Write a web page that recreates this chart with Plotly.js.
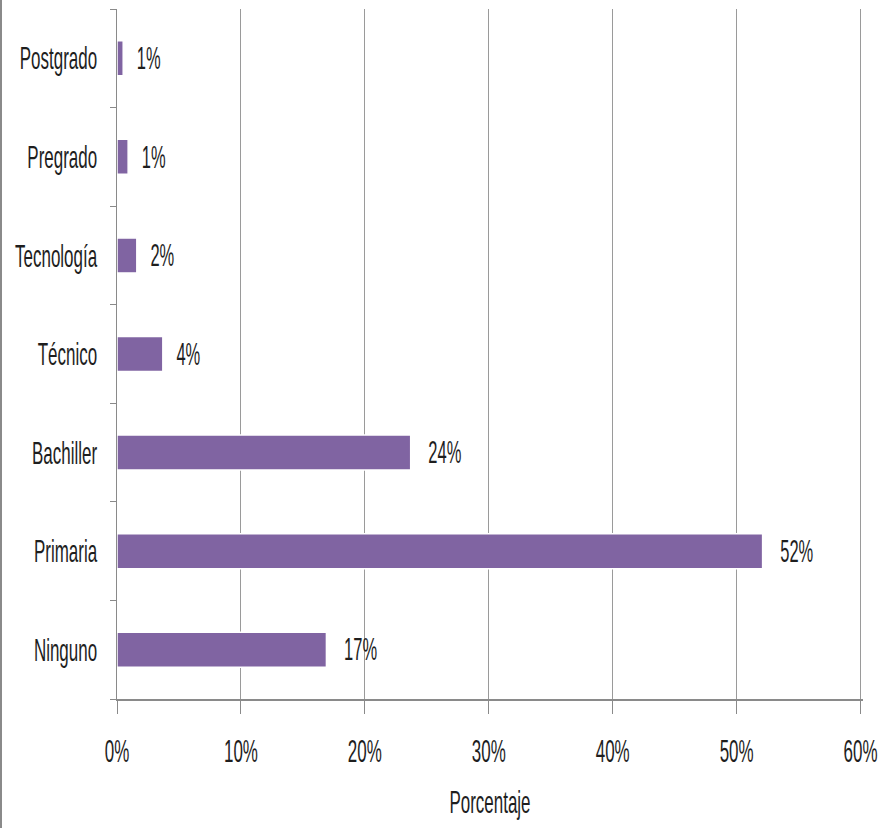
<!DOCTYPE html>
<html>
<head>
<meta charset="utf-8">
<script src="https://cdn.plot.ly/plotly-3.0.1.min.js"></script>
<style>
  html, body { margin: 0; padding: 0; background: #fff; }
  #chart { width: 881px; height: 828px; box-sizing: border-box; border-left: 2px solid #8a8a8a; }
</style>
</head>
<body>
<div id="chart"></div>
<script>
const categories = ["Ninguno", "Primaria", "Bachiller", "Técnico", "Tecnología", "Pregrado", "Postgrado"];
const values = [0.169, 0.521, 0.237, 0.037, 0.016, 0.009, 0.005];
const labels = ["17%", "52%", "24%", "4%", "2%", "1%", "1%"];
const tickVals = [0, 0.1, 0.2, 0.3, 0.4, 0.5, 0.6];
const tickText = ["0%", "10%", "20%", "30%", "40%", "50%", "60%"];

const F = { family: "Liberation Sans, Arial, sans-serif", size: 32, color: "#1e1e1e" };
const SQUEEZE = 0.53;

const trace = {
  type: "bar",
  orientation: "h",
  y: categories,
  x: values,
  text: labels,
  textposition: "outside",
  cliponaxis: false,
  textfont: F,
  marker: { color: "#8064A2", line: { color: "#ffffff", width: 1.5 } },
  hoverinfo: "skip"
};

const layout = {
  width: 879,
  height: 828,
  margin: { l: 115, r: 18, t: 9, b: 129 },
  paper_bgcolor: "#ffffff",
  plot_bgcolor: "#ffffff",
  showlegend: false,
  bargap: 0.645,
  font: F,
  xaxis: {
    range: [0, 0.602],
    tickvals: tickVals,
    ticktext: tickText,
    showgrid: true,
    gridcolor: "#9a9a9a",
    gridwidth: 1,
    zeroline: false,
    showline: true,
    linecolor: "#8a8a8a",
    linewidth: 2,
    ticks: "outside",
    ticklen: 13,
    tickcolor: "#8a8a8a",
    tickfont: F,
    ticklabelstandoff: 10,
    ticklabeloverflow: "allow",
    title: { text: "Porcentaje", font: F, standoff: 22 },
    fixedrange: true
  },
  yaxis: {
    type: "category",
    categoryorder: "array",
    categoryarray: categories,
    showgrid: false,
    zeroline: false,
    showline: true,
    linecolor: "#8a8a8a",
    linewidth: 1.5,
    ticks: "outside",
    tickson: "boundaries",
    ticklen: 6,
    tickcolor: "#8a8a8a",
    ticklabelstandoff: 12,
    tickfont: F,
    fixedrange: true
  }
};

function squeeze(gd) {
  const sel = gd.querySelectorAll(".xtick text, .ytick text, .textpoint text, .bartext, .g-xtitle text");
  sel.forEach(function (t) {
    if (t.getAttribute("data-sq")) return;
    const len = t.getComputedTextLength();
    if (len > 0) {
      t.setAttribute("textLength", (len * SQUEEZE).toFixed(2));
      t.setAttribute("lengthAdjust", "spacingAndGlyphs");
      t.setAttribute("data-sq", "1");
    }
  });
}

Plotly.newPlot("chart", [trace], layout, { displayModeBar: false, staticPlot: true })
  .then(function (gd) { squeeze(gd); });
</script>
</body>
</html>
